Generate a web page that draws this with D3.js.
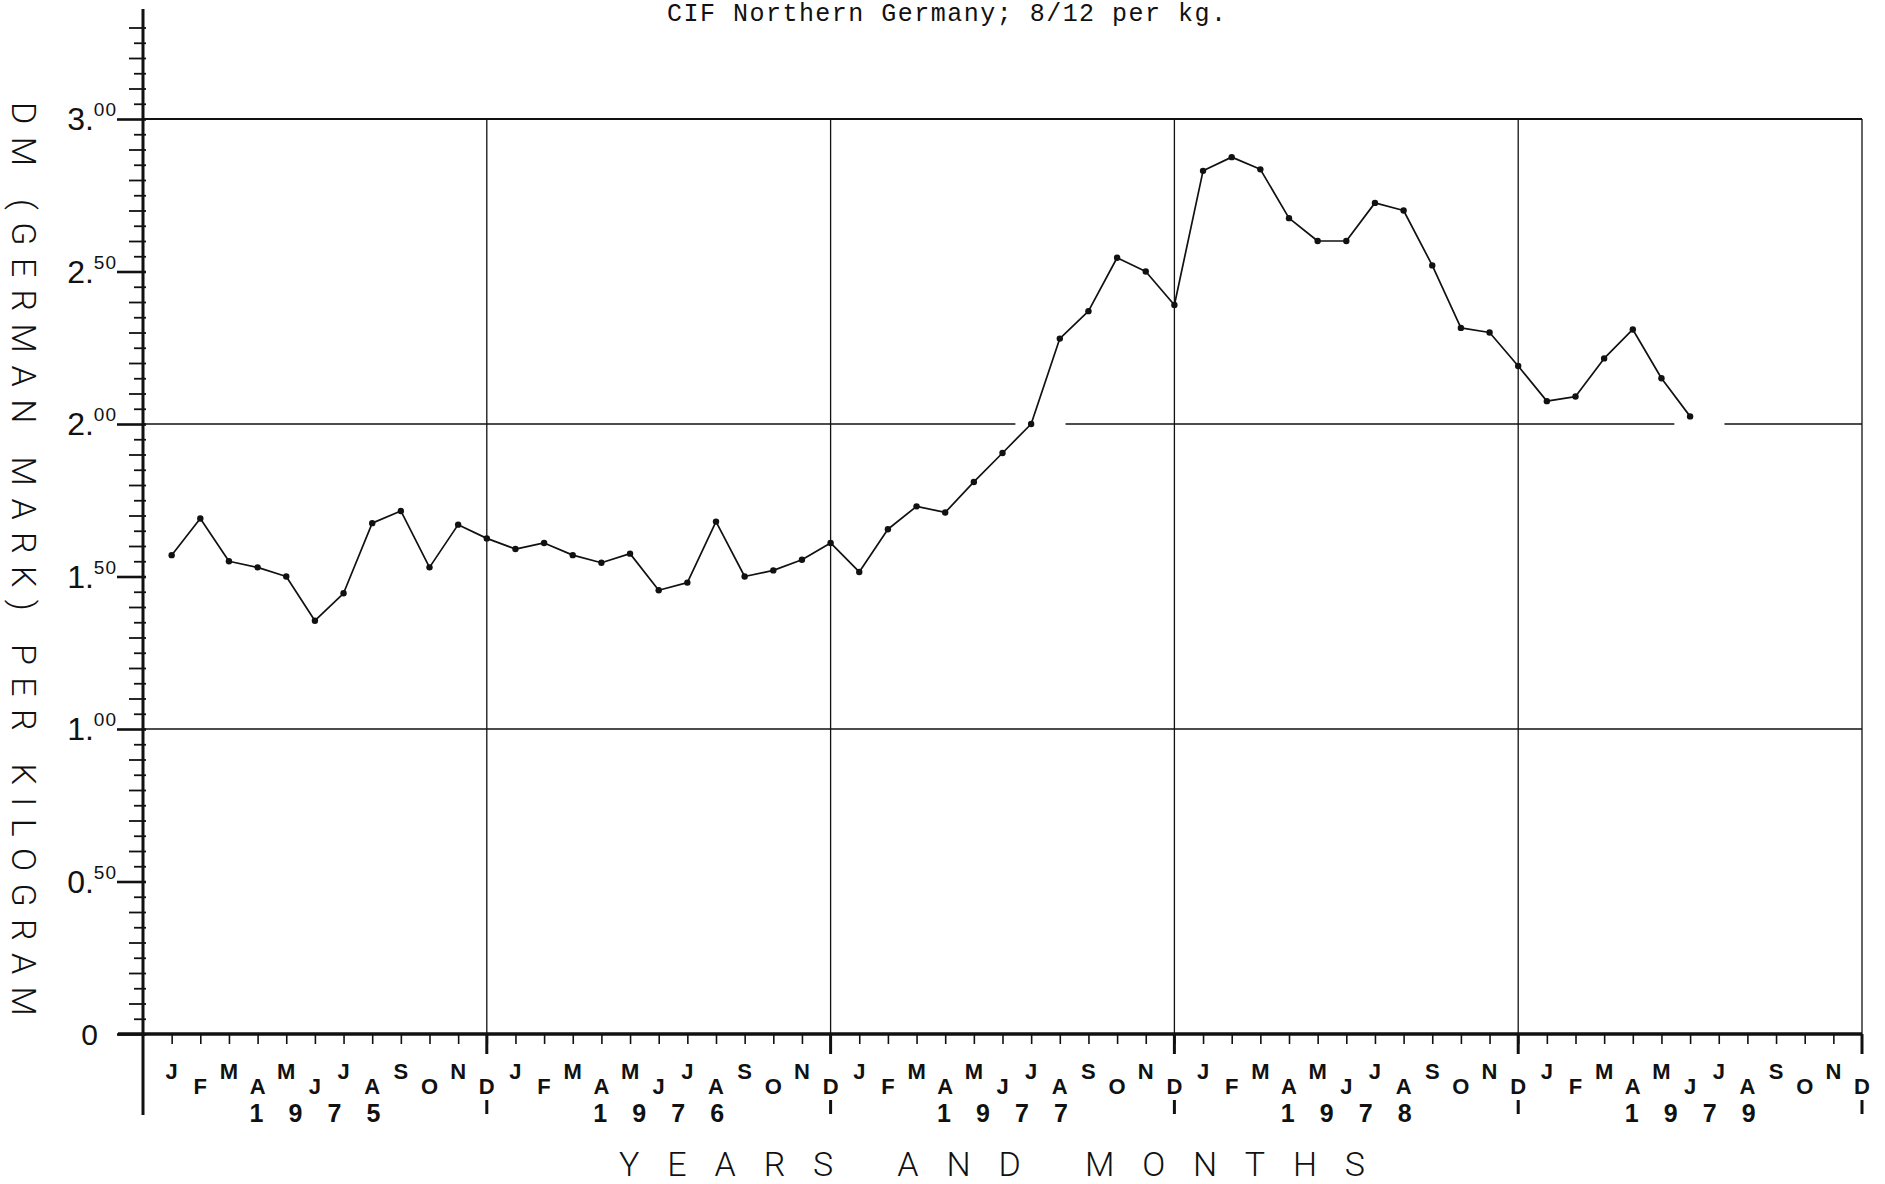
<!DOCTYPE html>
<html><head><meta charset="utf-8">
<script src="https://cdn.jsdelivr.net/npm/d3@7"></script>
<style>body{margin:0;background:#fff}</style>
</head><body>
<svg id="c" width="1885" height="1184"></svg>
<script>
// ---- data ----
const monthLetters = ["J","F","M","A","M","J","J","A","S","O","N","D"];
const years = ["1975","1976","1977","1978","1979"];
const price1975 = [1.57, 1.69, 1.55, 1.53, 1.50, 1.355, 1.445, 1.675, 1.715, 1.53, 1.67, 1.625];
const price1976 = [1.59, 1.61, 1.57, 1.545, 1.575, 1.455, 1.48, 1.68, 1.50, 1.52, 1.555, 1.61];
const price1977 = [1.515, 1.655, 1.73, 1.71, 1.81, 1.905, 2.00, 2.28, 2.37, 2.545, 2.50, 2.39];
const price1978 = [2.83, 2.875, 2.835, 2.675, 2.60, 2.60, 2.725, 2.70, 2.52, 2.315, 2.30, 2.19];
const price1979 = [2.075, 2.09, 2.215, 2.31, 2.15, 2.025];
const yLabelValues = [0, 0.5, 1, 1.5, 2, 2.5, 3];
const yLabelTexts = ["0", "0.50", "1.00", "1.50", "2.00", "2.50", "3.00"];
const gridValues = [1, 2, 3];
const titleText = "CIF  Northern Germany; 8/12 per kg.";
const yTitle = "DM (GERMAN MARK)  PER  KILOGRAM";
const xTitle = "YEARS  AND  MONTHS";

// ---- build ----
const series = [price1975, price1976, price1977, price1978, price1979]
  .flat().map((v, i) => ({m: i + 1, v}));

const svg = d3.select("#c");
const ink = "#111";
svg.append("rect").attr("width", 1885).attr("height", 1184).attr("fill", "#fff");

const x = d3.scaleLinear().domain([0, 60]).range([143, 1862]);
const y = d3.scaleLinear().domain([0, 3]).range([1034, 119]);
const x0 = x(0), y0 = y(0);

// title
svg.append("text").attr("x", 667).attr("y", 21)
  .attr("font-family", "'Liberation Mono', 'DejaVu Sans Mono', monospace")
  .attr("font-size", 25).attr("fill", ink)
  .attr("textLength", 559).attr("lengthAdjust", "spacing")
  .text(titleText);

// horizontal grid lines (with hand-drawn gaps where the curve meets them)
gridValues.forEach(g => {
  const touches = series.filter(d => Math.abs(d.v - g) < 0.04);
  let segs = [[0, 60]];
  touches.forEach(d => {
    const a = d.m - 0.55, b = d.m + 1.2;
    segs = segs.flatMap(([s, e]) => {
      if (b <= s || a >= e) return [[s, e]];
      const out = [];
      if (a > s) out.push([s, a]);
      if (b < e) out.push([b, e]);
      return out;
    });
  });
  segs.forEach(([s, e]) => {
    svg.append("line").attr("x1", x(s)).attr("x2", x(e))
      .attr("y1", y(g)).attr("y2", y(g))
      .attr("stroke", ink).attr("stroke-width", g === 3 ? 1.8 : 1.6);
  });
});

// vertical year lines + right border
d3.range(1, 6).forEach(k => {
  svg.append("line").attr("x1", x(12 * k)).attr("x2", x(12 * k))
    .attr("y1", y(3)).attr("y2", y0)
    .attr("stroke", ink).attr("stroke-width", 1.3);
});

// y axis minor ticks
const minorAll = d3.range(1, 67).map(i => +(i * 0.05).toFixed(2))
  .filter(v => Math.abs(v * 2 - Math.round(v * 2)) > 1e-6);
const longT = minorAll.filter(v => Math.abs(v * 10 - Math.round(v * 10)) < 1e-6);
const shortT = minorAll.filter(v => !longT.includes(v));
function yTicks(vals, size, sw) {
  const g = svg.append("g").attr("transform", `translate(${x0},0)`)
    .call(d3.axisLeft(y).tickValues(vals).tickSize(size).tickFormat(""));
  g.select(".domain").remove();
  g.selectAll(".tick line").attr("x1", 3).attr("stroke", ink).attr("stroke-width", sw);
}
yTicks(longT, 14, 1.8);
yTicks(shortT, 9, 1.8);
yTicks(yLabelValues, 26, 2.6);

// y axis labels with raised decimals
yLabelValues.forEach((v, i) => {
  const s = yLabelTexts[i];
  const t = svg.append("text").attr("x", 117).attr("y", y(v) + 11)
    .attr("text-anchor", "end")
    .attr("font-family", "'Liberation Sans', Arial, sans-serif")
    .attr("fill", ink);
  if (s.includes(".")) {
    const [a, b] = s.split(".");
    t.append("tspan").attr("font-size", 32).text(a + ".");
    t.append("tspan").attr("font-size", 19).attr("dy", -14)
      .attr("letter-spacing", 1).text(b);
  } else {
    t.attr("x", 98).append("tspan").attr("font-size", 30).text(s);
  }
});

// y axis line
svg.append("line").attr("x1", x0).attr("x2", x0).attr("y1", 9).attr("y2", 1115)
  .attr("stroke", ink).attr("stroke-width", 3);

// x axis month ticks
const gx = svg.append("g").attr("transform", `translate(0,${y0})`)
  .call(d3.axisBottom(x).tickValues(d3.range(1, 60)).tickSize(10).tickFormat(""));
gx.select(".domain").remove();
gx.selectAll(".tick line").attr("stroke", ink).attr("stroke-width", 1.6);

// x axis line
svg.append("line").attr("x1", 118).attr("x2", x(60)).attr("y1", y0).attr("y2", y0)
  .attr("stroke", ink).attr("stroke-width", 3.5);

// year boundary marks below the axis
d3.range(1, 6).forEach(k => {
  const xx = x(12 * k);
  svg.append("line").attr("x1", xx).attr("x2", xx).attr("y1", y0).attr("y2", y0 + 20)
    .attr("stroke", ink).attr("stroke-width", 3);
  svg.append("line").attr("x1", xx).attr("x2", xx).attr("y1", 1100).attr("y2", 1114)
    .attr("stroke", ink).attr("stroke-width", 3);
});

// month letters
years.forEach((yr, k) => {
  monthLetters.forEach((mL, m) => {
    svg.append("text").attr("x", x(12 * k + m + 1))
      .attr("y", m % 2 === 0 ? 1079 : 1094)
      .attr("text-anchor", "middle")
      .attr("font-family", "'Liberation Sans', Arial, sans-serif")
      .attr("font-size", 22).attr("font-weight", "bold").attr("fill", ink)
      .text(mL);
  });
  const cx = (x(12 * k) + x(12 * k + 12)) / 2;
  yr.split("").forEach((ch, j) => {
    svg.append("text").attr("x", cx + (j - 1.5) * 39).attr("y", 1122)
      .attr("text-anchor", "middle")
      .attr("font-family", "'Liberation Sans', Arial, sans-serif")
      .attr("font-size", 25).attr("font-weight", "bold").attr("fill", ink)
      .text(ch);
  });
});

// axis titles
svg.append("text").attr("x", 619).attr("y", 1176)
  .attr("font-family", "Roboto, 'Liberation Sans', sans-serif")
  .attr("font-weight", 300).attr("font-size", 34).attr("fill", ink)
  .attr("textLength", 746).attr("lengthAdjust", "spacing")
  .text(xTitle);
svg.append("text").attr("transform", "translate(12,102) rotate(90)")
  .attr("font-family", "Roboto, 'Liberation Sans', sans-serif")
  .attr("font-weight", 300).attr("font-size", 34).attr("fill", ink)
  .attr("textLength", 914).attr("lengthAdjust", "spacing")
  .text(yTitle);

// data line and markers
svg.append("path").datum(series)
  .attr("d", d3.line().x(d => x(d.m)).y(d => y(d.v)))
  .attr("fill", "none").attr("stroke", ink).attr("stroke-width", 1.7)
  .attr("stroke-linejoin", "round");
svg.selectAll("circle.pt").data(series).join("circle").attr("class", "pt")
  .attr("cx", d => x(d.m)).attr("cy", d => y(d.v)).attr("r", 3.2)
  .attr("fill", ink);
</script>
</body></html>
